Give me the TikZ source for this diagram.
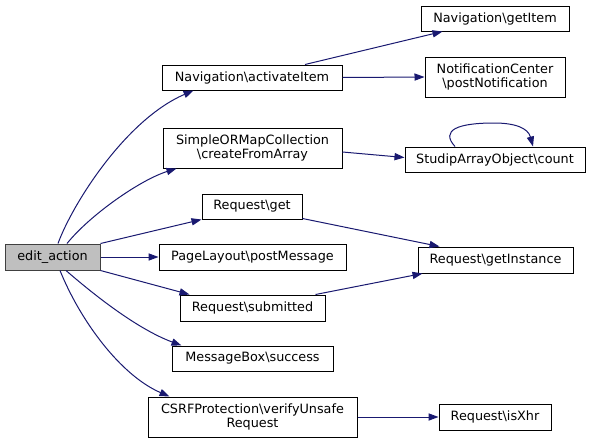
\documentclass[tikz,border=0pt]{standalone}
\usepackage{fontspec}
\setmainfont{DejaVu Sans}
\usetikzlibrary{arrows.meta,calc}
\definecolor{edgeblue}{HTML}{191970}
\definecolor{rootfill}{HTML}{BFBFBF}
\definecolor{rootline}{HTML}{404040}
\begin{document}
\begin{tikzpicture}[x=0.75pt,y=-0.75pt,
  bx/.style n args={2}{draw=black,line width=0.75pt,fill=white,inner sep=0pt,
    minimum width=#1*0.75pt,minimum height=#2*0.75pt,align=center,
    font=\fontsize{9.6pt}{10.5pt}\selectfont},
  root/.style={fill=rootfill,draw=rootline},
  edge/.style={draw=edgeblue,line width=0.75pt,-{Triangle[length=7.5pt,width=5.4pt]}}]
\useasboundingbox (0,0) rectangle (591,443);
% nodes
\node[bx={95}{26},root] (ea) at (52.5,257) {edit\_action};
\node[bx={180}{25}] (act) at (252,77.5) {Navigation\textbackslash activateItem};
\node[bx={179}{40}] (cfa) at (252.5,148) {SimpleORMapCollection\\\textbackslash createFromArray};
\node[bx={100}{25}] (get) at (252,206.5) {Request\textbackslash get};
\node[bx={187}{26}] (pm) at (252.5,257) {PageLayout\textbackslash postMessage};
\node[bx={145}{26}] (sub) at (252.5,308) {Request\textbackslash submitted};
\node[bx={161}{25}] (suc) at (252.5,358.5) {MessageBox\textbackslash success};
\node[bx={209}{40}] (csrf) at (252.5,417) {CSRFProtection\textbackslash verifyUnsafe\\Request};
\node[bx={148}{25}] (gitem) at (495,18.5) {Navigation\textbackslash getItem};
\node[bx={140}{40}] (pn) at (495,77) {NotificationCenter\\\textbackslash postNotification};
\node[bx={180}{25}] (cnt) at (495,159.5) {StudipArrayObject\textbackslash count};
\node[bx={155}{26}] (gi) at (495.5,260) {Request\textbackslash getInstance};
\node[bx={112}{26}] (xhr) at (495,417) {Request\textbackslash isXhr};
% edges
\draw[edge] ($(ea.north)+(5.5,0)$) .. controls (72,205) and (125,120) .. ($(act.south west)+(32,0)$);
\draw[edge] ($(ea.north)+(14.5,0)$) .. controls (90,215) and (140,180) .. ($(cfa.south west)+(14,0)$);
\draw[edge] (ea.north east) -- (get.south west);
\draw[edge] (ea.east) -- (pm.west);
\draw[edge] (ea.south east) -- ($(sub.north west)+(10,0)$);
\draw[edge] ($(ea.south)+(13.5,0)$) .. controls (100,300) and (140,330) .. ($(suc.north west)+(10,0)$);
\draw[edge] ($(ea.south)+(7.5,0)$) .. controls (80,320) and (120,375) .. ($(csrf.north west)+(22,0)$);
\draw[edge] ($(act.north)+(53,0)$) -- ($(gitem.south west)+(22,0)$);
\draw[edge] (act.east) -- (pn.west);
\draw[edge] ($(cfa.east)+(0,4)$) -- ($(cnt.west)+(0,-2)$);
\draw[edge] ($(cnt.north)+(-40,0)$) .. controls (440,130) and (458,123) .. (494,123)
  .. controls (515,123) and (528,128) .. ($(cnt.north)+(38,0)$);
\draw[edge] ($(get.south east)+(0,-1)$) -- ($(gi.north west)+(22,0)$);
\draw[edge] ($(sub.north east)+(-10,0)$) -- ($(gi.south west)+(5,0)$);
\draw[edge] (csrf.east) -- (xhr.west);
\end{tikzpicture}
\end{document}
